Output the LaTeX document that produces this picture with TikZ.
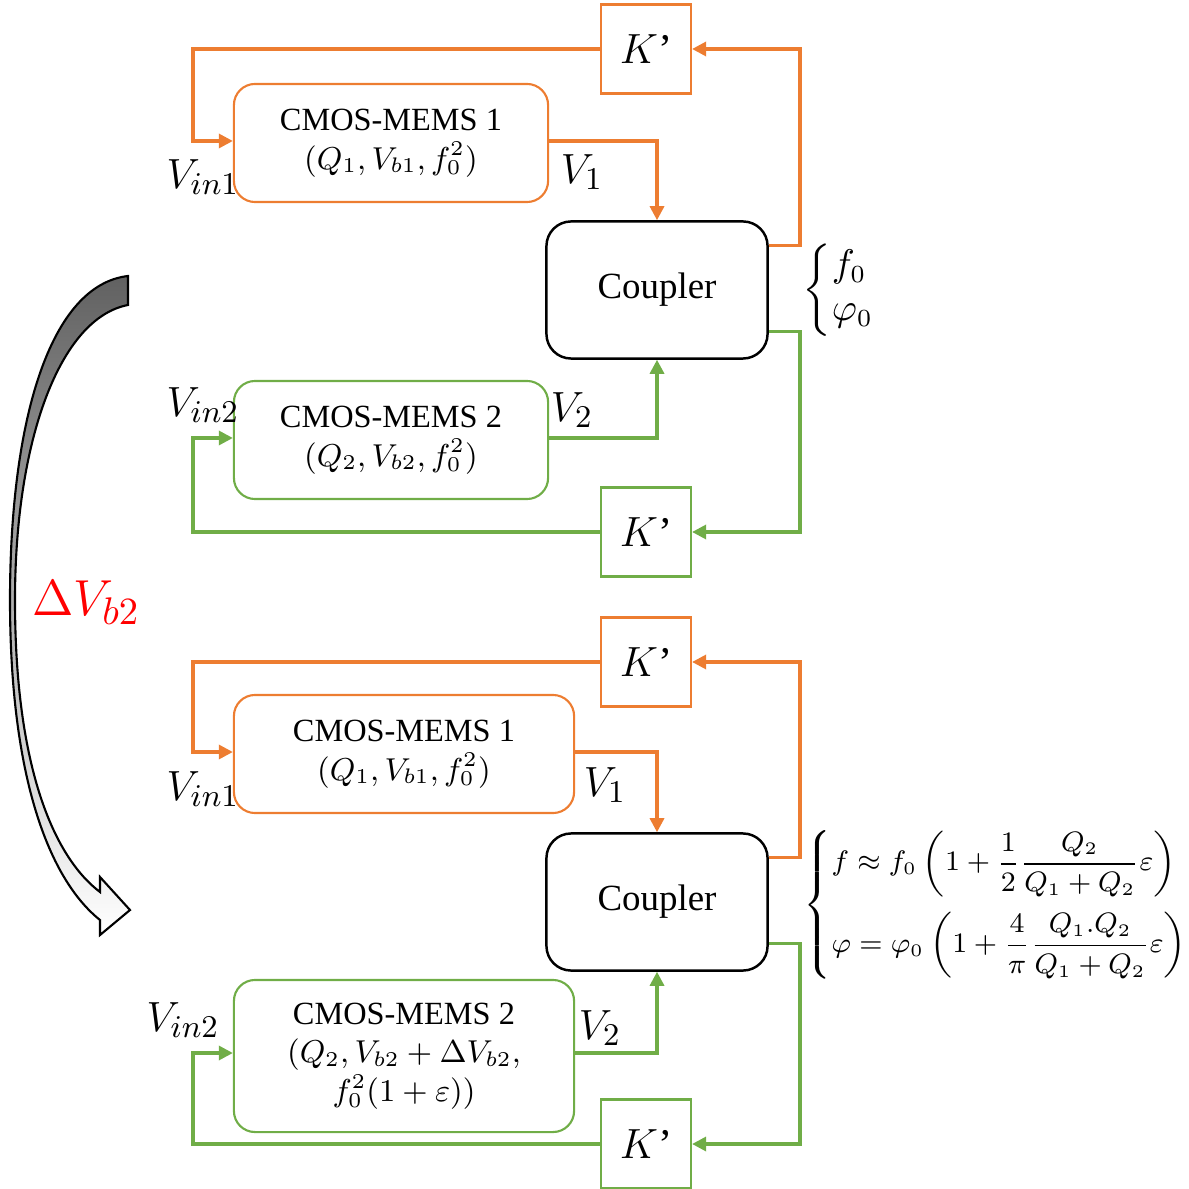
\documentclass[tikz,border=0pt]{standalone}
\usepackage{amsmath}
\usepackage{fontspec}
\setmainfont{Liberation Serif}
\usetikzlibrary{arrows.meta,calc}

\definecolor{memsorange}{HTML}{ED7D31}
\definecolor{memsgreen}{HTML}{70AD47}

\begin{document}
\begin{tikzpicture}[
    x=0.01cm,y=-0.01cm,
    >={Triangle[length=4pt,width=4pt]},
    mems/.style={draw,rounded corners=6pt,line width=0.6pt,align=center,
        minimum width=3.14cm,minimum height=1.18cm,
        font=\fontsize{9.2}{11}\selectfont},
    gain/.style={draw,line width=0.6pt,minimum width=0.9cm,minimum height=0.89cm,
        font=\fontsize{12}{14}\selectfont},
    coupler/.style={draw,rounded corners=7pt,line width=0.7pt,
        minimum width=2.21cm,minimum height=1.37cm,
        font=\fontsize{10.5}{12}\selectfont},
    oline/.style={->,memsorange,line width=0.9pt},
    gline/.style={->,memsgreen,line width=0.9pt},
    lbl/.style={font=\fontsize{12.5}{14}\selectfont},
]
\useasboundingbox (0,0) rectangle (1189,1189);

\coordinate (lx) at (193,0);
\coordinate (rx) at (800,0);

% ---------- before the bias change ----------
\node[gain,draw=memsorange] (kA) at (646,49) {$K$’};
\node[mems,draw=memsorange] (memsA) at (391,143) {CMOS-MEMS 1\\ $(Q_1,V_{b1},f_0^2)$};
\node[coupler] (coupA) at (657,290) {Coupler};
\node[mems,draw=memsgreen] (memsB) at (391,440) {CMOS-MEMS 2\\ $(Q_2,V_{b2},f_0^2)$};
\node[gain,draw=memsgreen] (kB) at (646,532) {$K$’};

\coordinate (oA) at ($(coupA.north east)+(0,25)$);
\coordinate (gA) at ($(coupA.south east)+(0,-28)$);

\draw[oline] (kA.west) -- (kA.west -| lx) |- ([yshift=0.02cm]memsA.west);
\draw[oline] ([yshift=0.02cm]memsA.east) -| (coupA.north);
\draw[oline] (oA) -- (oA -| rx) |- (kA.east);
\draw[gline] (gA) -- (gA -| rx) |- (kB.east);
\draw[gline] (kB.west) -- (kB.west -| lx) |- ([yshift=0.02cm]memsB.west);
\draw[gline] ([yshift=0.02cm]memsB.east) -| (coupA.south);

\node[lbl] (vinA) at (203,177) {$V_{in1}$};
\node[lbl] (vA) at (582,172) {$V_1$};
\node[lbl] (vinB) at (203,405) {$V_{in2}$};
\node[lbl] (vB) at (572,410) {$V_2$};

\node[font=\fontsize{10.5}{12.5}\selectfont] (outA) at (840,290)
    {$\left\{\begin{array}{@{}l@{}} f_0\\ \varphi_0\end{array}\right.$};

% ---------- after the bias change ----------
\node[gain,draw=memsorange] (kC) at (646,662) {$K$’};
\node[mems,draw=memsorange,minimum width=3.4cm] (memsC) at (404,754)
    {CMOS-MEMS 1\\ $(Q_1,V_{b1},f_0^2)$};
\node[coupler] (coupB) at (657,902) {Coupler};
\node[mems,draw=memsgreen,minimum width=3.4cm,minimum height=1.52cm] (memsD) at (404,1056)
    {CMOS-MEMS 2\\ $(Q_2,V_{b2}+\Delta V_{b2},$\\ $f_0^2(1+\varepsilon))$};
\node[gain,draw=memsgreen] (kD) at (646,1144) {$K$’};

\coordinate (oB) at ($(coupB.north east)+(0,25)$);
\coordinate (gB) at ($(coupB.south east)+(0,-28)$);

\draw[oline] (kC.west) -- (kC.west -| lx) |- ([yshift=0.02cm]memsC.west);
\draw[oline] ([yshift=0.02cm]memsC.east) -| (coupB.north);
\draw[oline] (oB) -- (oB -| rx) |- (kC.east);
\draw[gline] (gB) -- (gB -| rx) |- (kD.east);
\draw[gline] (kD.west) -- (kD.west -| lx) |- ([yshift=0.03cm]memsD.west);
\draw[gline] ([yshift=0.03cm]memsD.east) -| (coupB.south);

\node[lbl] (vinC) at (203,789) {$V_{in1}$};
\node[lbl] (vC) at (605,785) {$V_1$};
\node[lbl] (vinD) at (183,1020) {$V_{in2}$};
\node[lbl] (vD) at (600,1028) {$V_2$};

\node[font=\fontsize{7.8}{9.5}\selectfont,anchor=west,inner sep=0pt] (outB) at (803,905)
    {$\left\{\begin{array}{@{}l@{}}
      f\approx f_0\left(1+\dfrac{1}{2}\dfrac{Q_2}{Q_1+Q_2}\varepsilon\right)\\[9pt]
      \varphi=\varphi_0\left(1+\dfrac{4}{\pi}\dfrac{Q_1.Q_2}{Q_1+Q_2}\varepsilon\right)
    \end{array}\right.$};

% ---------- bias step arrow ----------
\shade[top color=black!62,bottom color=white,draw=black,line width=0.6pt]
    (128,276) .. controls (50,285) and (10,420) .. (10,600)
    .. controls (10,780) and (50,880) .. (100,920)
    -- (100,935) -- (130,910) -- (100,877) -- (100,892)
    .. controls (55,858) and (15,770) .. (15,600)
    .. controls (15,440) and (60,318) .. (128,305) -- cycle;
\node[red,font=\fontsize{15}{17}\selectfont] (dvb) at (86,603) {$\Delta V_{b2}$};
\end{tikzpicture}
\end{document}
